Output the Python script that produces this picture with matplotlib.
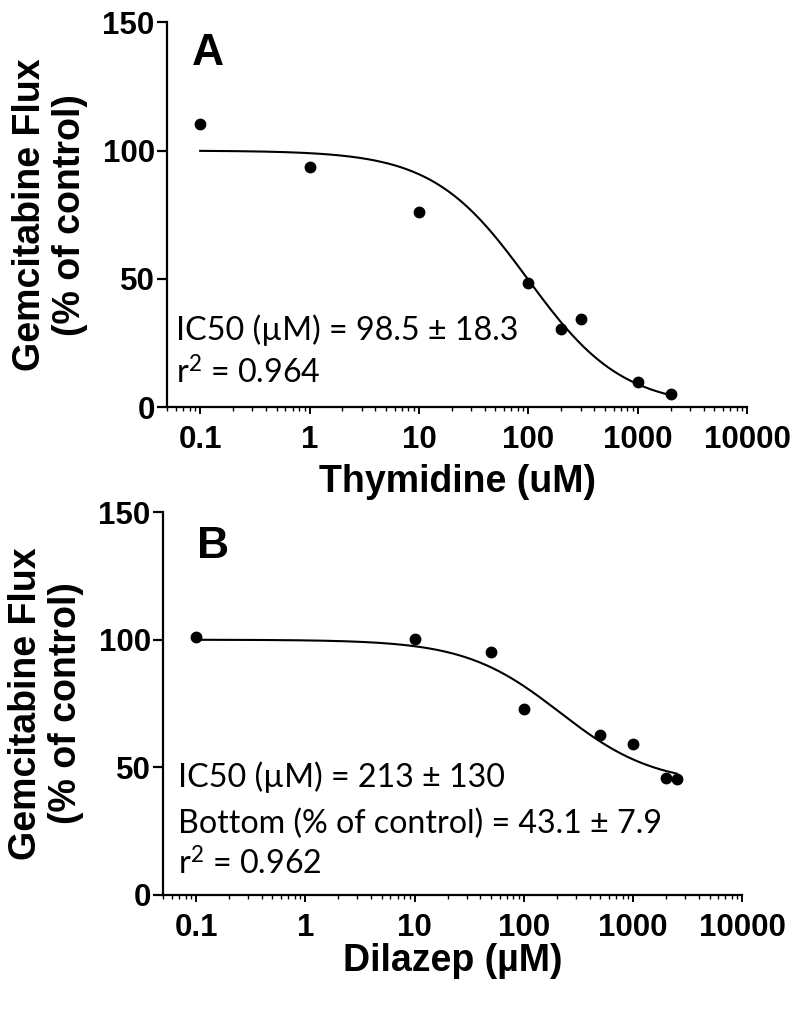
import numpy as np
import matplotlib
matplotlib.use("Agg")
import matplotlib.pyplot as plt
from matplotlib.ticker import LogLocator, FixedLocator, NullFormatter

plt.rcParams["mathtext.fontset"] = "custom"
plt.rcParams["mathtext.rm"] = "Lato"
plt.rcParams["mathtext.it"] = "Lato:italic"

# ── Data ───────────────────────────────────────────────────────────────────────
thy_conc = [0.1, 1, 10, 100, 200, 300, 1000, 2000]
thy_flux = [110.2, 93.8, 76.2, 48.4, 30.5, 34.4, 9.8, 5.1]

dil_conc = [0.1, 10, 50, 100, 500, 1000, 2000, 2500]
dil_flux = [101.2, 100.4, 95.0, 73.0, 62.5, 59.0, 45.7, 45.3]

# fitted sigmoid parameters (top, bottom, IC50, hill) as reported
thy_fit = (100.0, 0.0, 98.5, 1.0)
dil_fit = (100.0, 43.1, 213.0, 1.0)

thy_notes = ["IC50 (\u00b5M) = 98.5 \u00b1 18.3", "r$^{2}$ = 0.964"]
dil_notes = ["IC50 (\u00b5M) = 213 \u00b1 130",
             "Bottom (% of control) = 43.1 \u00b1 7.9",
             "r$^{2}$ = 0.962"]

x_ticks = [0.1, 1, 10, 100, 1000, 10000]
x_ticklabels = ["0.1", "1", "10", "100", "1000", "10000"]
y_ticks = [0, 50, 100, 150]

BOLD = ["Liberation Sans", "DejaVu Sans"]
NOTE = ["Lato", "DejaVu Sans"]


def sigmoid(x, top, bottom, ic50, hill):
    return bottom + (top - bottom) / (1 + (x / ic50) ** hill)


def draw_panel(ax, conc, flux, fit, xlabel, xpad, letter, letter_pos,
               notes, note_x, note_y):
    xs = np.geomspace(min(conc), max(conc), 300)
    ax.plot(xs, sigmoid(xs, *fit), color="black", lw=1.5, zorder=2)
    ax.plot(conc, flux, "o", color="black", ms=7.5, zorder=3)

    ax.set_xscale("log")
    ax.set_xlim(0.05, 10000)
    ax.set_ylim(0, 150)
    ax.xaxis.set_major_locator(FixedLocator(x_ticks))
    ax.xaxis.set_minor_locator(LogLocator(base=10, subs=np.arange(2, 10), numticks=20))
    ax.xaxis.set_minor_formatter(NullFormatter())
    ax.set_xticklabels(x_ticklabels)
    ax.set_yticks(y_ticks)

    for side in ("top", "right"):
        ax.spines[side].set_visible(False)
    for side in ("left", "bottom"):
        ax.spines[side].set_linewidth(1.6)

    ax.tick_params(axis="y", which="major", length=7, width=1.6, pad=2)
    ax.tick_params(axis="x", which="major", length=5, width=1.4, pad=8)
    ax.tick_params(axis="x", which="minor", length=3, width=1.0)
    for lab in ax.get_xticklabels() + ax.get_yticklabels():
        lab.set_fontfamily(BOLD)
        lab.set_fontweight("bold")
        lab.set_fontsize(22.5)

    ax.set_ylabel("Gemcitabine Flux\n(% of control)", family=BOLD,
                  fontweight="bold", fontsize=27, va="center", linespacing=1.15)
    ax.yaxis.set_label_coords(-0.202, 0.5)
    ax.set_xlabel(xlabel, family=BOLD, fontweight="bold", fontsize=27, labelpad=xpad)

    ax.text(letter_pos[0], letter_pos[1], letter, transform=ax.transAxes,
            family=BOLD, fontweight="bold", fontsize=32, va="baseline")
    for txt, y in zip(notes, note_y):
        ax.text(note_x, y, txt, transform=ax.transAxes, family=NOTE,
                fontsize=23.2, va="baseline")


fig = plt.figure(figsize=(8, 10.13), dpi=100)
ax_a = fig.add_axes([0.209, 0.598, 0.725, 0.380])
ax_b = fig.add_axes([0.204, 0.1165, 0.724, 0.378])

draw_panel(ax_a, thy_conc, thy_flux, thy_fit, "Thymidine (uM)", 6, "A", (0.043, 0.888),
           thy_notes, 0.0155, [0.174, 0.062])
draw_panel(ax_b, dil_conc, dil_flux, dil_fit, "Dilazep (\u00b5M)", 0, "B", (0.059, 0.88),
           dil_notes, 0.026, [0.282, 0.162, 0.052])

fig.savefig("out.png", dpi=100)
